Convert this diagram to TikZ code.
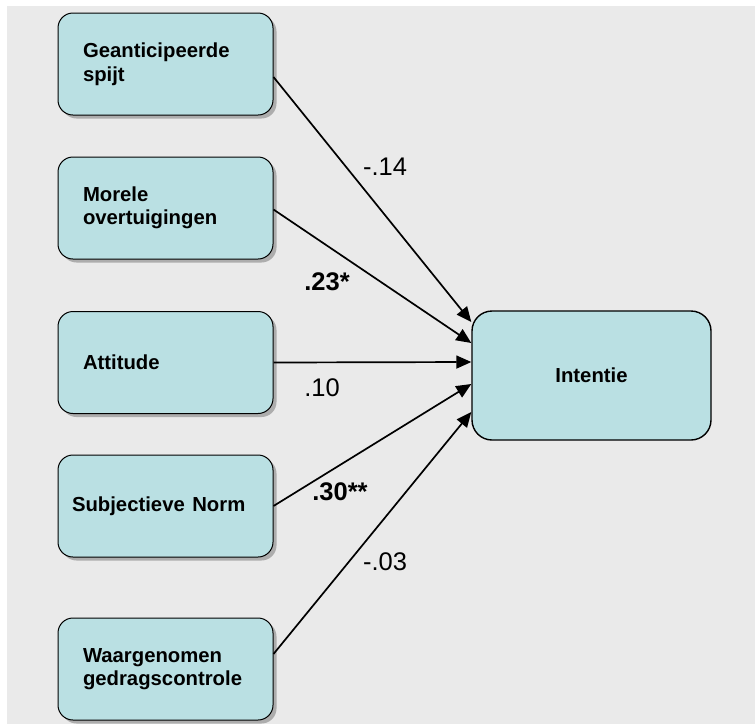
\documentclass[tikz,border=0pt]{standalone}
\usepackage{fontspec}
\setmainfont{Liberation Sans}
\usetikzlibrary{arrows.meta,shadows}
\definecolor{boxfill}{RGB}{186,224,227}
\definecolor{bggray}{RGB}{234,234,234}

\begin{document}
\begin{tikzpicture}[x=1pt, y=-1pt, every node/.style={font=\fontsize{20.3}{23.5}\selectfont\bfseries}, var/.style={draw, line width=1pt, rounded corners=15pt, fill=boxfill, minimum width=215pt, minimum height=102pt, text width=165pt, inner xsep=25pt, align=left, drop shadow={shadow xshift=3.5pt, shadow yshift=-3.5pt, fill=black!32, opacity=1}}, pad/.style={line width=1.7pt, -{Triangle[length=15pt, width=13pt]}}, coef/.style={font=\fontsize{25.5}{30}\selectfont}, sig/.style={font=\fontsize{25.5}{30}\selectfont\bfseries}]
	\useasboundingbox (0,0) rectangle (755,724);
	\fill[bggray] (7,6) rectangle (755,724);
	\foreach \n/\y/\t in {spijt/64/{Geanticipeerde\\spijt}, moreel/208/{Morele\\overtuigingen}, attitude/362.5/{Attitude}, controle/669/{Waargenomen\\gedragscontrole}} {\node[var] (\n) at (165.5,\y) {\t};}
	\node[var, inner xsep=14pt, text width=187pt] (norm) at (165.5,506) {Subjectieve\hspace{7.5pt}Norm};
	\node[draw, line width=1.4pt, rounded corners=20pt, fill=boxfill, minimum width=239pt, minimum height=129pt] (intentie) at (591.5,375.5) {Intentie};
	\draw[pad] ([yshift=-13pt]spijt.east) -- ([yshift=53.5pt]intentie.west);
	\draw[pad] ([yshift=-1.5pt]moreel.east) -- ([yshift=32.5pt]intentie.west);
	\draw[pad] (attitude.east) -- ([yshift=13.5pt]intentie.west);
	\draw[pad] (norm.east) -- ([yshift=-8.5pt]intentie.west);
	\draw[pad] ([yshift=15pt]controle.east) -- ([yshift=-36.5pt]intentie.west);
	\node[coef] (b1) at (385,167) {-.14};
	\node[sig] (b2) at (327,282) {.23*};
	\node[coef] (b3) at (322,388) {.10};
	\node[sig] (b4) at (340,492) {.30**};
	\node[coef] (b5) at (385,562) {-.03};
\end{tikzpicture}
\end{document}
